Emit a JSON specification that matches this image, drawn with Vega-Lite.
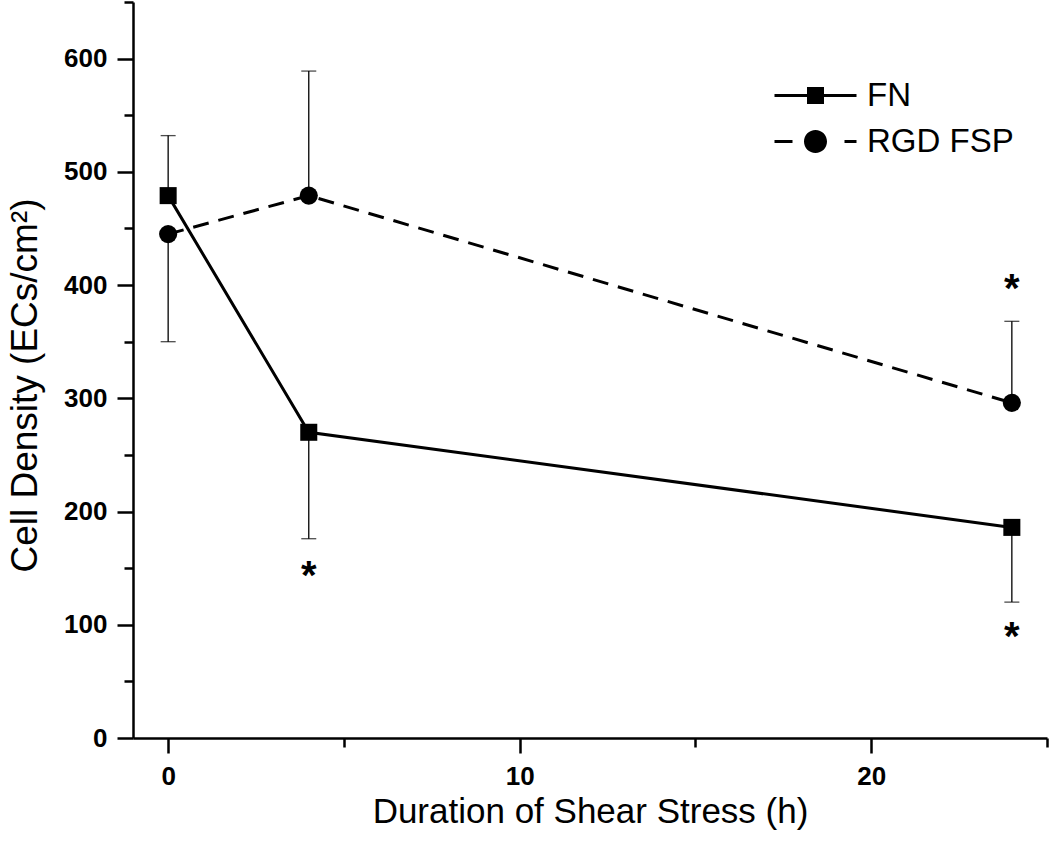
{
  "$schema": "https://vega.github.io/schema/vega-lite/v6.json",
  "autosize": "none",
  "width": 914,
  "height": 736,
  "padding": {"left": 133, "top": 2, "right": 3, "bottom": 115},
  "background": "white",
  "config": {
    "view": {"stroke": null},
    "font": "Liberation Sans"
  },
  "datasets": {
    "pts": [
      {"series": "FN", "hours": 0, "density": 479, "errEnd": 532},
      {"series": "FN", "hours": 4, "density": 270, "errEnd": 176},
      {"series": "FN", "hours": 24, "density": 186, "errEnd": 120},
      {"series": "RGD FSP", "hours": 0, "density": 445, "errEnd": 350},
      {"series": "RGD FSP", "hours": 4, "density": 479, "errEnd": 589},
      {"series": "RGD FSP", "hours": 24, "density": 296, "errEnd": 368}
    ],
    "stars": [
      {"hours": 4, "density": 132, "label": "*"},
      {"hours": 24, "density": 385, "label": "*"},
      {"hours": 24, "density": 78, "label": "*"}
    ]
  },
  "encoding": {
    "x": {
      "field": "hours", "type": "quantitative",
      "scale": {"domain": [-1, 25], "nice": false, "zero": false},
      "axis": {
        "title": "Duration of Shear Stress (h)",
        "values": [0, 5, 10, 15, 20, 25],
        "labelExpr": "datum.value % 10 === 0 ? datum.label : ''",
        "grid": false,
        "domainColor": "black", "domainWidth": 2.5,
        "tickColor": "black", "tickWidth": 2.5,
        "tickSize": {"condition": {"test": "datum.value % 10 === 0", "value": 15}, "value": 9},
        "labelFont": "Liberation Sans", "labelFontWeight": "bold", "labelFontSize": 26, "labelColor": "black",
        "labelPadding": 10,
        "titleFont": "Liberation Sans", "titleFontWeight": "normal", "titleFontSize": 35, "titleColor": "black",
        "titlePadding": 5
      }
    },
    "y": {
      "field": "density", "type": "quantitative",
      "scale": {"domain": [0, 650], "nice": false},
      "axis": {
        "title": "Cell Density (ECs/cm²)",
        "values": [0, 50, 100, 150, 200, 250, 300, 350, 400, 450, 500, 550, 600, 650],
        "labelExpr": "datum.value % 100 === 0 ? datum.label : ''",
        "grid": false,
        "domainColor": "black", "domainWidth": 2.5,
        "tickColor": "black", "tickWidth": 2.5,
        "tickSize": {"condition": {"test": "datum.value % 100 === 0", "value": 16}, "value": 9},
        "labelFont": "Liberation Sans", "labelFontWeight": "bold", "labelFontSize": 26, "labelColor": "black",
        "labelPadding": 10,
        "titleFont": "Liberation Sans", "titleFontWeight": "normal", "titleFontSize": 37, "titleColor": "black",
        "titlePadding": 19,
        "titleY": 383
      }
    }
  },
  "layer": [
    {
      "data": {"name": "pts"},
      "mark": {"type": "rule", "color": "black", "strokeWidth": 1.3},
      "encoding": {"y2": {"field": "errEnd"}}
    },
    {
      "data": {"name": "pts"},
      "mark": {"type": "tick", "orient": "horizontal", "color": "black", "thickness": 1.3, "size": 15},
      "encoding": {"y": {"field": "errEnd", "type": "quantitative"}}
    },
    {
      "data": {"name": "pts"},
      "transform": [{"filter": "datum.series === 'FN'"}],
      "mark": {"type": "line", "color": "black", "strokeWidth": 3}
    },
    {
      "data": {"name": "pts"},
      "transform": [{"filter": "datum.series === 'RGD FSP'"}],
      "mark": {"type": "line", "color": "black", "strokeWidth": 3, "strokeDash": [16, 10]}
    },
    {
      "data": {"name": "pts"},
      "transform": [{"filter": "datum.series === 'FN'"}],
      "mark": {"type": "point", "shape": "square", "filled": true, "color": "black", "opacity": 1, "size": 290}
    },
    {
      "data": {"name": "pts"},
      "transform": [{"filter": "datum.series === 'RGD FSP'"}],
      "mark": {"type": "point", "shape": "circle", "filled": true, "color": "black", "opacity": 1, "size": 330}
    },
    {
      "data": {"name": "pts"},
      "mark": {"type": "point", "opacity": 0, "size": 400, "filled": true, "color": "black"},
      "encoding": {
        "shape": {
          "field": "series", "type": "nominal",
          "scale": {
            "domain": ["FN", "RGD FSP"],
            "range": [
              "M-4.1,-0.15H4.1V0.15H-4.1ZM-0.85,-0.85H0.85V0.85H-0.85Z",
              "M-4.1,-0.15H-2.3V0.15H-4.1ZM2.9,-0.15H4.1V0.15H2.9ZM1.15,0A1.15,1.15,0,1,1,-1.15,0A1.15,1.15,0,1,1,1.15,0Z"
            ]
          },
          "legend": {
            "title": null,
            "orient": "none",
            "legendX": 666,
            "legendY": 77,
            "padding": 0,
            "offset": 0,
            "symbolSize": 400,
            "rowPadding": 12,
            "labelOffset": 35,
            "labelFont": "Liberation Sans",
            "labelFontSize": 33,
            "labelColor": "black",
            "labelLimit": 400,
            "symbolOpacity": 1,
            "symbolFillColor": "black"
          }
        }
      }
    },
    {
      "data": {"name": "stars"},
      "mark": {"type": "text", "fontSize": 40, "fontWeight": "bold", "font": "Liberation Sans", "color": "black", "baseline": "alphabetic", "align": "center"},
      "encoding": {"text": {"field": "label"}}
    }
  ]
}
